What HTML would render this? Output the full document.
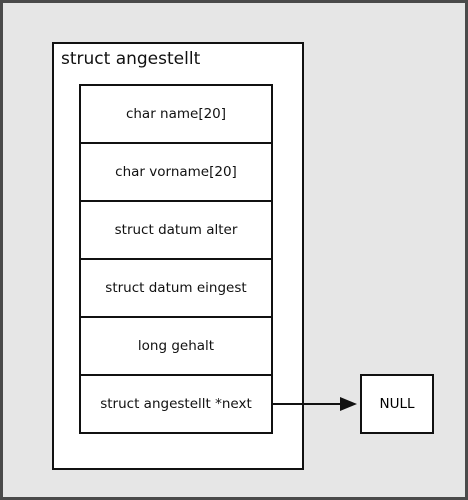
<!DOCTYPE html>
<html><head><style>
body{margin:0;width:468px;height:500px;overflow:hidden;background:#e6e6e6;font-family:"DejaVu Sans","Liberation Sans",sans-serif}
.frame{position:absolute;left:0;top:0;width:462px;height:494px;border:3px solid #4a4a4a;background:#e6e6e6}
.outer{position:absolute;left:52px;top:42px;width:248px;height:424px;border:2.5px solid #111;background:#fff}
.title{position:absolute;left:61px;top:49px;font-size:17px;color:#111}
.row{position:absolute;left:79px;width:190px;height:56px;border:2px solid #111;background:#fff;display:flex;align-items:center;justify-content:center;font-size:13.5px;color:#111}
.null{position:absolute;left:360px;top:374px;width:70px;height:56px;border:2.5px solid #111;background:#fff;display:flex;align-items:center;justify-content:center;font-size:13.5px}
</style></head><body>
<div class="frame"></div>
<div class="outer"></div>
<div class="title">struct angestellt</div>
<div class="row" style="top:84px">char name[20]</div>
<div class="row" style="top:142px">char vorname[20]</div>
<div class="row" style="top:200px">struct datum alter</div>
<div class="row" style="top:258px">struct datum eingest</div>
<div class="row" style="top:316px">long gehalt</div>
<div class="row" style="top:374px">struct angestellt *next</div>
<div class="null">NULL</div>
<svg style="position:absolute;left:0;top:0" width="468" height="500">
<line x1="271" y1="404" x2="342" y2="404" stroke="#111" stroke-width="2"/>
<polygon points="340,397 357,404 340,411" fill="#111"/>
</svg>
</body></html>
